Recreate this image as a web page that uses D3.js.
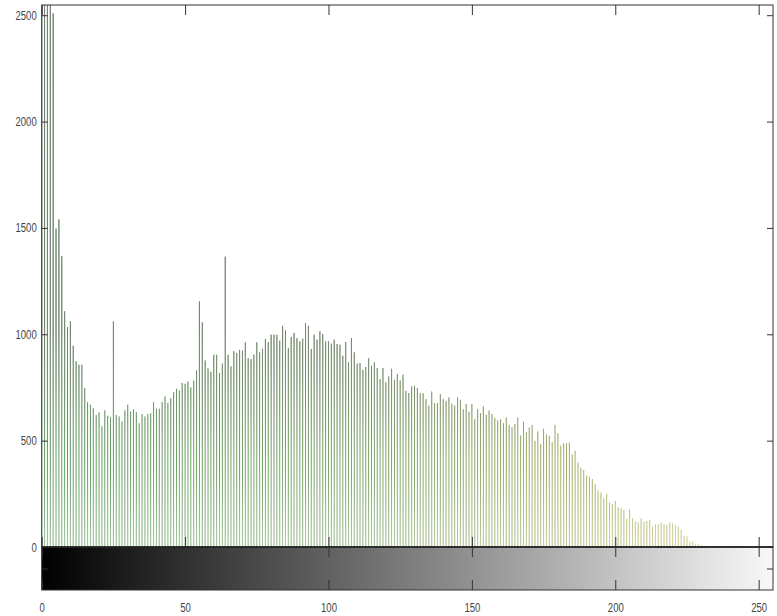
<!DOCTYPE html>
<html>
<head>
<meta charset="utf-8">
<script src="https://cdnjs.cloudflare.com/ajax/libs/d3/7.8.5/d3.min.js"></script>
<style>
  body { margin: 0; background: #fff; }
  .tick text { font-family: "Liberation Sans", Arial, sans-serif; font-size: 12.5px; fill: #444; }
  .tick line { stroke: #333; }
</style>
</head>
<body>
<svg id="chart" width="777" height="616"></svg>
<script>
// histogram counts, one per gray level 0..255 (first bins are clipped at the top)
var counts = [
  3000,2800,2700,2600,2509,1497,1540,1367,1108,1034,
  1061,946,873,857,857,747,681,669,653,621,
  632,567,642,617,611,1061,621,614,590,642,
  669,637,648,634,582,625,614,625,629,681,
  650,650,681,708,677,700,728,744,736,771,
  767,778,750,782,830,1155,1056,877,840,824,
  904,904,818,862,1365,904,849,920,912,927,
  923,962,888,884,904,962,915,932,978,964,
  998,998,998,970,1040,1018,935,987,1006,982,
  967,979,1053,1040,931,998,975,1014,1001,967,
  967,956,975,954,951,899,964,868,982,915,
  862,865,833,846,888,852,868,841,790,841,
  774,802,838,786,814,783,810,734,724,755,
  758,747,723,723,695,664,731,676,676,719,
  695,687,703,673,665,703,692,648,672,636,
  672,601,648,629,661,621,642,625,606,595,
  601,582,609,574,563,578,609,524,589,540,
  562,573,499,543,485,556,530,523,493,574,
  535,476,488,488,491,436,452,397,373,363,
  336,331,320,295,265,256,229,250,211,202,
  217,187,182,174,132,177,135,122,116,135,
  119,122,127,96,107,107,115,107,104,115,
  111,104,96,80,53,49,25,25,14,13,
  9,6,3,0,0,0,0,0,0,0,
  0,0,0,0,0,0,0,0,0,0,
  0,0,0,0,0,0
];
var levels = d3.range(256);
var xTicks = [0, 50, 100, 150, 200, 250];
var yTicks = [0, 500, 1000, 1500, 2000, 2500];

var pLeft = 41.7, pRight = 773, pTop = 5, pBase = 547, cbBottom = 590;

var x = d3.scaleLinear().domain([0, 255]).range([pLeft, pRight]);
var y = d3.scaleLinear().domain([0, 2548]).range([pBase, pTop]);
var cb = d3.scaleLinear().domain([0, 1]).range([cbBottom, pBase]);

var svg = d3.select("#chart");
var defs = svg.append("defs");

defs.append("clipPath").attr("id", "plotclip")
  .append("rect").attr("x", pLeft).attr("y", pTop).attr("width", pRight - pLeft).attr("height", pBase - pTop);

// hue of stems changes from green to yellow-green along x
var hue = defs.append("linearGradient").attr("id", "hue")
  .attr("gradientUnits", "userSpaceOnUse")
  .attr("x1", pLeft).attr("x2", pRight).attr("y1", 0).attr("y2", 0);
hue.append("stop").attr("offset", 0).attr("stop-color", "#5f9f5f");
hue.append("stop").attr("offset", 0.45).attr("stop-color", "#7aa465");
hue.append("stop").attr("offset", 0.75).attr("stop-color", "#a8b064");
hue.append("stop").attr("offset", 1).attr("stop-color", "#c4c46c");

// gray on the upper part, lighter towards the baseline
var shade = defs.append("linearGradient").attr("id", "shade")
  .attr("gradientUnits", "userSpaceOnUse")
  .attr("x1", 0).attr("x2", 0).attr("y1", pTop).attr("y2", pBase);
shade.append("stop").attr("offset", 0).attr("stop-color", "#7a7a7a").attr("stop-opacity", 0.95);
shade.append("stop").attr("offset", (330 - pTop) / (pBase - pTop)).attr("stop-color", "#7a7a7a").attr("stop-opacity", 0.85);
shade.append("stop").attr("offset", (460 - pTop) / (pBase - pTop)).attr("stop-color", "#7a7a7a").attr("stop-opacity", 0);
shade.append("stop").attr("offset", (470 - pTop) / (pBase - pTop)).attr("stop-color", "#ffffff").attr("stop-opacity", 0);
shade.append("stop").attr("offset", 1).attr("stop-color", "#ffffff").attr("stop-opacity", 0.4);

var gray = defs.append("linearGradient").attr("id", "gray")
  .attr("gradientUnits", "userSpaceOnUse")
  .attr("x1", pLeft).attr("x2", pRight).attr("y1", 0).attr("y2", 0);
gray.append("stop").attr("offset", 0).attr("stop-color", "#000");
gray.append("stop").attr("offset", 1).attr("stop-color", "#f8f8f8");

var plot = svg.append("g").attr("clip-path", "url(#plotclip)");

["url(#hue)", "url(#shade)"].forEach(function(s){
  plot.append("g").selectAll("line")
    .data(levels.filter(function(d){ return counts[d] > 0; }))
    .enter()
    .append("line")
      .attr("x1", function(d){ return x(d); })
      .attr("x2", function(d){ return x(d); })
      .attr("y1", y(0))
      .attr("y2", function(d){ return y(counts[d]); })
      .attr("stroke", s)
      .attr("stroke-width", 1);
});

// colorbar strip
svg.append("rect")
  .attr("x", pLeft).attr("y", pBase)
  .attr("width", pRight - pLeft).attr("height", cbBottom - pBase)
  .attr("fill", "url(#gray)");

function noDomain(g){ g.select(".domain").remove(); }
// narrow digits like the original
function narrow(g){
  g.selectAll(".tick text")
    .attr("textLength", function(){ return this.textContent.length * 5.3; })
    .attr("lengthAdjust", "spacingAndGlyphs");
}

// main axes ticks (inward)
svg.append("g").attr("transform", "translate(" + pLeft + ",0)")
  .call(d3.axisLeft(y).tickValues(yTicks).tickSize(-6).tickPadding(5).tickFormat(d3.format("d")))
  .call(noDomain).call(narrow);
svg.append("g").attr("transform", "translate(" + pRight + ",0)")
  .call(d3.axisRight(y).tickValues(yTicks).tickSize(-6).tickFormat("")).call(noDomain);
svg.append("g").attr("transform", "translate(0," + pTop + ")")
  .call(d3.axisTop(x).tickValues(xTicks).tickSize(-10).tickFormat("")).call(noDomain);
svg.append("g").attr("transform", "translate(0," + pBase + ")")
  .call(d3.axisBottom(x).tickValues(xTicks).tickSize(-10).tickFormat("")).call(noDomain);

// colorbar ticks
svg.append("g").attr("transform", "translate(0," + pBase + ")")
  .call(d3.axisTop(x).tickValues(xTicks).tickSize(-10).tickFormat("")).call(noDomain);
svg.append("g").attr("transform", "translate(0," + cbBottom + ")")
  .call(d3.axisBottom(x).tickValues(xTicks).tickSize(-10).tickPadding(13).tickFormat(d3.format("d")))
  .call(noDomain).call(narrow);
svg.append("g").attr("transform", "translate(" + pLeft + ",0)")
  .call(d3.axisLeft(cb).tickValues([0.5]).tickSize(-6).tickFormat("")).call(noDomain);
svg.append("g").attr("transform", "translate(" + pRight + ",0)")
  .call(d3.axisRight(cb).tickValues([0.5]).tickSize(-6).tickFormat("")).call(noDomain);

// boxes
svg.append("rect")
  .attr("x", pLeft).attr("y", pTop).attr("width", pRight - pLeft).attr("height", pBase - pTop)
  .attr("fill", "none").attr("stroke", "#333").attr("stroke-width", 1);
svg.append("rect")
  .attr("x", pLeft).attr("y", pBase).attr("width", pRight - pLeft).attr("height", cbBottom - pBase)
  .attr("fill", "none").attr("stroke", "#333").attr("stroke-width", 1);
svg.append("line")
  .attr("x1", pLeft).attr("x2", pRight).attr("y1", pBase).attr("y2", pBase)
  .attr("stroke", "#222").attr("stroke-width", 1.6);
</script>
</body>
</html>
